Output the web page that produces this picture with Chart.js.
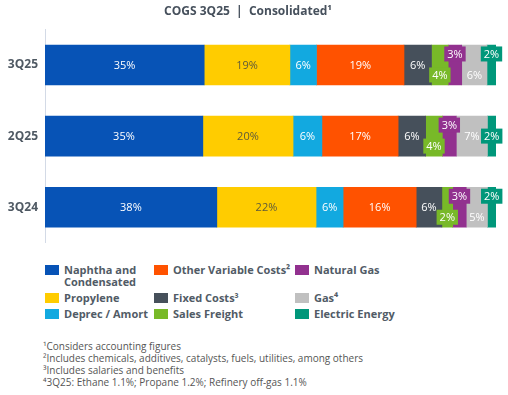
<!DOCTYPE html>
<html lang="en">
<head>
  <meta charset="UTF-8" />
  <title>COGS 3Q25 | Consolidated</title>
  <style>
    body { margin: 0; background: #fff; font-family: "Open Sans", "Liberation Sans", sans-serif; }
    #wrap { position: relative; width: 508px; height: 395px; overflow: hidden; }
    #chartBox { position: absolute; left: 0; top: 0; width: 508px; height: 257px; }
    .leg { position: absolute; font-weight: bold; font-size: 11px; line-height: 12px; color: #515b66; white-space: nowrap; }
    .sw { position: absolute; width: 14px; height: 10px; }
    #notes { position: absolute; left: 43px; top: 340px; font-size: 10px; line-height: 12px; color: #555; }
  </style>
</head>
<body>
<div id="wrap">
  <div id="chartBox"><canvas id="cogs"></canvas></div>
  <div id="legend"></div>
  <div id="notes">
    <div>¹Considers accounting figures</div>
    <div>²Includes chemicals, additives, catalysts, fuels, utilities, among others</div>
    <div>³Includes salaries and benefits</div>
    <div>⁴3Q25: Ethane 1.1%; Propane 1.2%; Refinery off-gas 1.1%</div>
  </div>
</div>

<script src="https://cdn.jsdelivr.net/npm/chart.js"></script>
<script>
  // dados (% do COGS) por trimestre
  const quarters = ['3Q25', '2Q25', '3Q24'];
  const naphtha = [35.3, 35.0, 38.1];
  const propylene = [19.0, 20.0, 22.0];
  const deprec = [5.9, 6.4, 6.0];
  const otherVariable = [19.4, 16.9, 16.2];
  const fixedCosts = [6.1, 6.1, 5.7];
  const salesFreight = [3.7, 3.7, 2.4];
  const naturalGas = [3.0, 3.1, 3.0];
  const gas = [5.6, 6.9, 4.7];
  const electricEnergy = [2.0, 1.9, 1.9];

  const series = [
    { name: 'Naphtha and\nCondensated', data: naphtha, color: '#0753b6' },
    { name: 'Propylene', data: propylene, color: '#ffcc00' },
    { name: 'Deprec / Amort', data: deprec, color: '#12a9e0' },
    { name: 'Other Variable Costs²', data: otherVariable, color: '#ff5200' },
    { name: 'Fixed Costs³', data: fixedCosts, color: '#46505b' },
    { name: 'Sales Freight', data: salesFreight, color: '#78b928' },
    { name: 'Natural Gas', data: naturalGas, color: '#92318f' },
    { name: 'Gas⁴', data: gas, color: '#c0c0c0' },
    { name: 'Electric Energy', data: electricEnergy, color: '#00977a' }
  ];

  // como desenhar os rótulos das fatias pequenas
  const labelStyle = {
    1: { color: '#5e5a3a' },
    5: { box: true, shift: [10, 10, 10] },
    6: { box: true, shift: [-11, -11, -11] },
    7: { shift: [10, 0, 10] },
    8: { box: true, shift: [-11, 0, -11] }
  };

  const barLabels = {
    id: 'barLabels',
    afterDatasetsDraw(chart) {
      const ctx = chart.ctx;
      ctx.save();
      ctx.font = '11px "Open Sans"';
      ctx.textAlign = 'center';
      ctx.textBaseline = 'middle';
      chart.data.datasets.forEach((ds, i) => {
        const st = labelStyle[i] || {};
        chart.getDatasetMeta(i).data.forEach((bar, j) => {
          const txt = Math.round(ds.data[j]) + '%';
          const cx = (bar.x + bar.base) / 2;
          const cy = bar.y + (st.shift ? st.shift[j] : 0);
          if (st.box) {
            const w = ctx.measureText(txt).width + 6;
            ctx.fillStyle = ds.backgroundColor;
            ctx.fillRect(cx - w / 2, cy - 7.5, w, 15);
          }
          ctx.fillStyle = st.color || '#ffffff';
          ctx.fillText(txt, cx, cy + 0.5);
        });
      });
      ctx.restore();
    }
  };

  new Chart(document.getElementById('cogs'), {
    type: 'bar',
    data: {
      labels: quarters,
      datasets: series.map(s => ({
        label: s.name,
        data: s.data,
        backgroundColor: s.color,
        borderWidth: 0,
        barThickness: 40
      }))
    },
    options: {
      indexAxis: 'y',
      responsive: true,
      maintainAspectRatio: false,
      animation: false,
      layout: { padding: { left: 0, right: 12, top: 0, bottom: 2 } },
      plugins: {
        legend: { display: false },
        tooltip: { enabled: false },
        title: {
          display: true,
          text: 'COGS 3Q25  |  Consolidated¹',
          color: '#46505c',
          font: { family: 'Open Sans', size: 12, weight: 'bold' },
          padding: { top: 4, bottom: 11 }
        }
      },
      scales: {
        x: { stacked: true, display: false, min: 0, max: 100 },
        y: {
          stacked: true,
          grid: { display: false, drawTicks: false },
          border: { display: true, color: '#d3dae6', width: 1 },
          ticks: { color: '#4f5963', padding: 7, font: { family: 'Open Sans', size: 12, weight: 'bold' } },
          afterFit(scale) { scale.width = 45; }
        }
      }
    },
    plugins: [barLabels]
  });

  // legenda em 3 colunas (ordem por coluna)
  const legCols = [45, 154, 295];
  const legRows = [270, 298, 314];
  const legend = document.getElementById('legend');
  series.forEach((s, i) => {
    const c = Math.floor(i / 3);
    const r = i % 3;
    const sw = document.createElement('div');
    sw.className = 'sw';
    sw.style.left = legCols[c] + 'px';
    sw.style.top = (legRows[r] - 5) + 'px';
    sw.style.background = s.color;
    legend.appendChild(sw);
    const t = document.createElement('div');
    t.className = 'leg';
    t.style.left = (legCols[c] + 19) + 'px';
    t.style.top = (legRows[r] - 6) + 'px';
    t.innerHTML = s.name.replace('\n', '<br>');
    legend.appendChild(t);
  });
</script>
</body>
</html>
